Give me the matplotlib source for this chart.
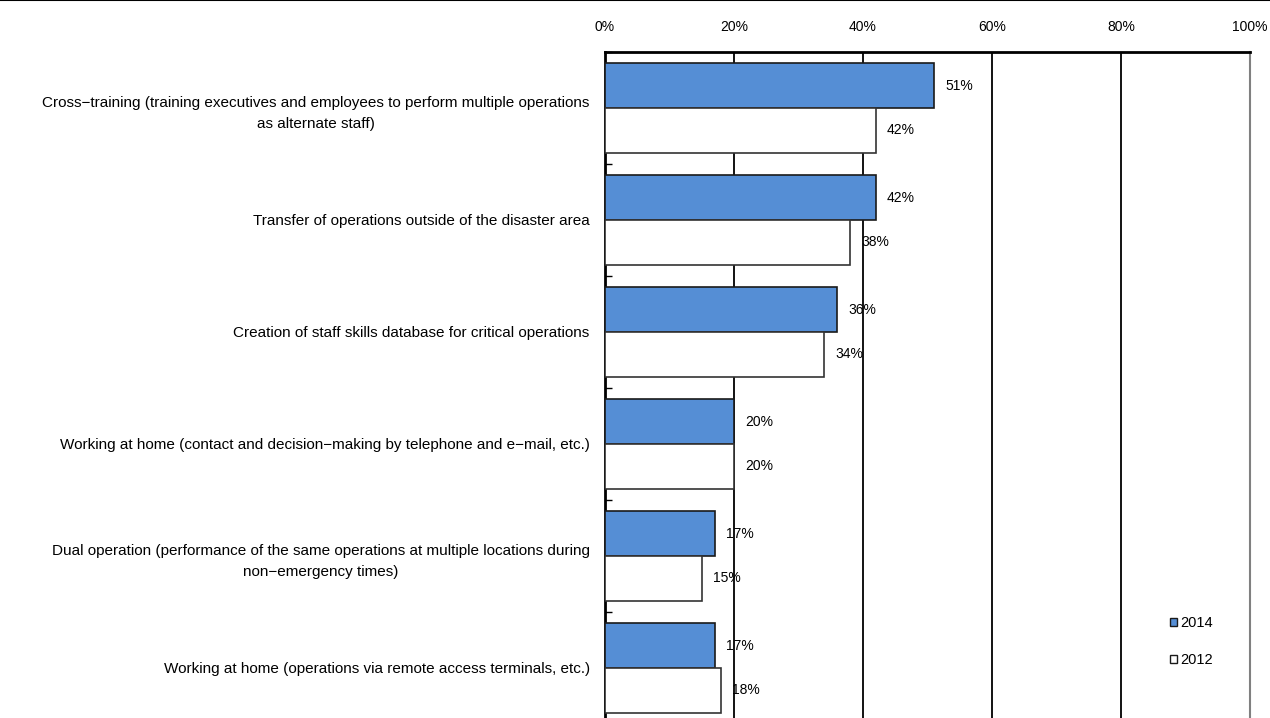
import matplotlib

matplotlib.use("Agg")
import matplotlib.pyplot as plt
from matplotlib.lines import Line2D
from matplotlib.patches import Patch
import numpy as np

plt.rcParams["font.family"] = ["Liberation Sans", "DejaVu Sans"]
plt.rcParams["font.size"] = 10

categories = [
    "Cross\u2212training (training executives and employees to perform multiple operations\nas alternate staff)",
    "Transfer of operations outside of the disaster area",
    "Creation of staff skills database for critical operations",
    "Working at home (contact and decision\u2212making by telephone and e\u2212mail, etc.)",
    "Dual operation (performance of the same operations at multiple locations during\nnon\u2212emergency times)",
    "Working at home (operations via remote access terminals, etc.)",
]
share_2014 = [51, 42, 36, 20, 17, 17]
share_2012 = [42, 38, 34, 20, 15, 18]
series_names = ["2014", "2012"]
x_ticks = [0, 20, 40, 60, 80, 100]

C_2014 = "#558ed5"
C_EDGE = "#1a1a1a"

fig = plt.figure(figsize=(12.7, 7.18), dpi=100)
ax = fig.add_axes([605 / 1270, -6 / 718, 645 / 1270, 672 / 718])

pos = np.arange(len(categories))
bar_h = 0.4
ax.barh(pos - bar_h / 2, share_2014, height=bar_h, color=C_2014,
        edgecolor=C_EDGE, linewidth=1.2, zorder=3, label=series_names[0])
ax.barh(pos + bar_h / 2, share_2012, height=bar_h, color="white",
        edgecolor="#333333", linewidth=1.2, zorder=3, label=series_names[1])

for p, v in zip(pos - bar_h / 2, share_2014):
    ax.annotate(f"{v}%", (v, p), xytext=(8, 0), textcoords="offset points",
                ha="left", va="center", fontsize=10, zorder=4)
for p, v in zip(pos + bar_h / 2, share_2012):
    ax.annotate(f"{v}%", (v, p), xytext=(8, 0), textcoords="offset points",
                ha="left", va="center", fontsize=10, zorder=4)

ax.set_xlim(0, 100)
ax.set_ylim(len(categories) - 0.5, -0.5)

ax.xaxis.tick_top()
ax.set_xticks(x_ticks)
ax.set_xticklabels([f"{t}%" for t in x_ticks])
ax.tick_params(axis="x", length=0, pad=13, labelsize=10)
ax.grid(True, axis="x", color="black", linewidth=1.3, zorder=1)

ax.set_yticks(pos)
ax.set_yticklabels(categories, multialignment="center", fontsize=11,
                   linespacing=1.7)
ax.tick_params(axis="y", which="major", length=0, pad=11)
ax.set_yticks(np.arange(len(categories) + 1) - 0.5, minor=True)
ax.tick_params(axis="y", which="minor", direction="in", length=5,
               width=1, color="black")

for side in ("top", "left"):
    ax.spines[side].set_linewidth(2)
    ax.spines[side].set_color("black")
ax.spines["right"].set_color("#808080")
ax.spines["right"].set_linewidth(1.5)
ax.spines["bottom"].set_visible(False)

handles = [
    Patch(facecolor=C_2014, edgecolor=C_EDGE, linewidth=1, label=series_names[0]),
    Patch(facecolor="white", edgecolor=C_EDGE, linewidth=1, label=series_names[1]),
]
fig.legend(handles=handles, loc="upper left", bbox_to_anchor=(1157 / 1270, 1 - 603 / 718),
           frameon=False, handlelength=0.5, handleheight=0.5, handletextpad=0.2,
           labelspacing=1.6, fontsize=10.5)

fig.add_artist(Line2D([0, 1], [0.9995, 0.9995], color="black", linewidth=1.5,
                      transform=fig.transFigure))

fig.savefig("out.png", dpi=100)
